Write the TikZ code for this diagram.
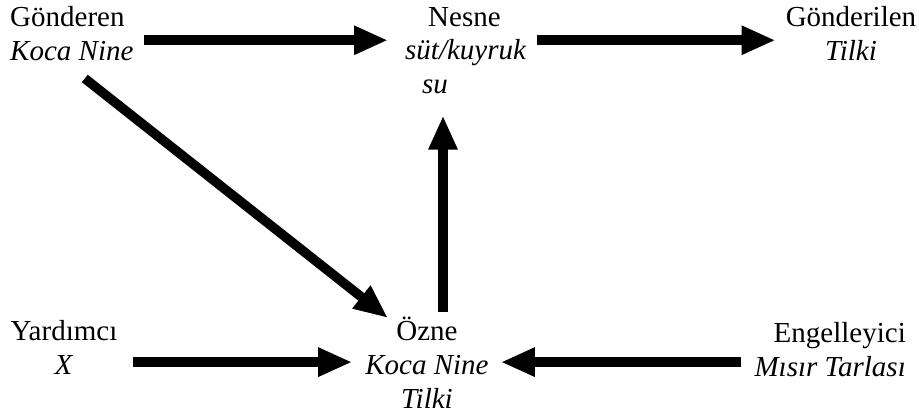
\documentclass[tikz,border=0pt]{standalone}
\usepackage{fontspec}
\setmainfont{Liberation Serif}[ItalicFont={Liberation Serif Italic}]
\usepackage{tikz}
\usetikzlibrary{arrows.meta,positioning}
\newcommand{\actfont}{\fontsize{29}{34}\selectfont}

\begin{document}
\begin{tikzpicture}[x=1pt,y=-1pt,
  actant/.style={inner sep=0pt,font=\actfont},
  fleche/.style={line width=9.5pt,-{Triangle[length=34pt,width=27pt]}}]%
\useasboundingbox (0,0) rectangle (919,420);%%
%%ACTANTS
\node[actant,anchor=north west,align=left] (gonderen) at (10,3) {\strut G\"onderen\\\textit{Koca Nine}}; %%
\node[actant,anchor=north west,align=left] (nesne) at (405,2) {\strut\hspace*{23pt}Nesne\\\textit{s\"ut/kuyruk}\\\hspace*{17pt}\textit{su}}; %%
\node[actant,anchor=north,align=center] (gonderilen) at (851,3) {\strut G\"onderilen\\\textit{Tilki}}; %%
\node[actant,anchor=north,align=center] (yardimci) at (64,316) {\strut Yard\i mc\i\\\textit{X}}; %%
\node[actant,anchor=north,align=center] (ozne) at (427,316) {\strut \"Ozne\\\textit{Koca Nine}\\\textit{Tilki}}; %%
\node[actant,anchor=north east,align=right] (engelleyici) at (906,318) {\strut Engelleyici\\\textit{M\i s\i r Tarlas\i}}; %%
%%OKLAR
\draw[fleche,shorten <=10pt,shorten >=17pt] ([yshift=-8pt]gonderen.east) -- ([yshift=-8pt]gonderen.east -| nesne.west); %%
\draw[fleche,shorten <=10pt,shorten >=10pt] ([yshift=-8pt]gonderen.east -| nesne.east) -- ([yshift=-8pt]gonderen.east -| gonderilen.west); %%
\draw[fleche] ([xshift=13pt,yshift=-17pt]gonderen.south) -- ([xshift=-39pt,yshift=-2pt]ozne.north); %%
\draw[fleche,shorten >=21pt] ([xshift=16pt,yshift=4pt]ozne.north) -- ([xshift=16pt]ozne.north |- nesne.south); %%
\draw[fleche,shorten <=15pt,shorten >=13pt] (yardimci.east |- ozne.west) -- (ozne.west); %%
\draw[fleche,shorten <=13pt,shorten >=12pt] (engelleyici.west |- ozne.east) -- (ozne.east); %%
\end{tikzpicture}
\end{document}
